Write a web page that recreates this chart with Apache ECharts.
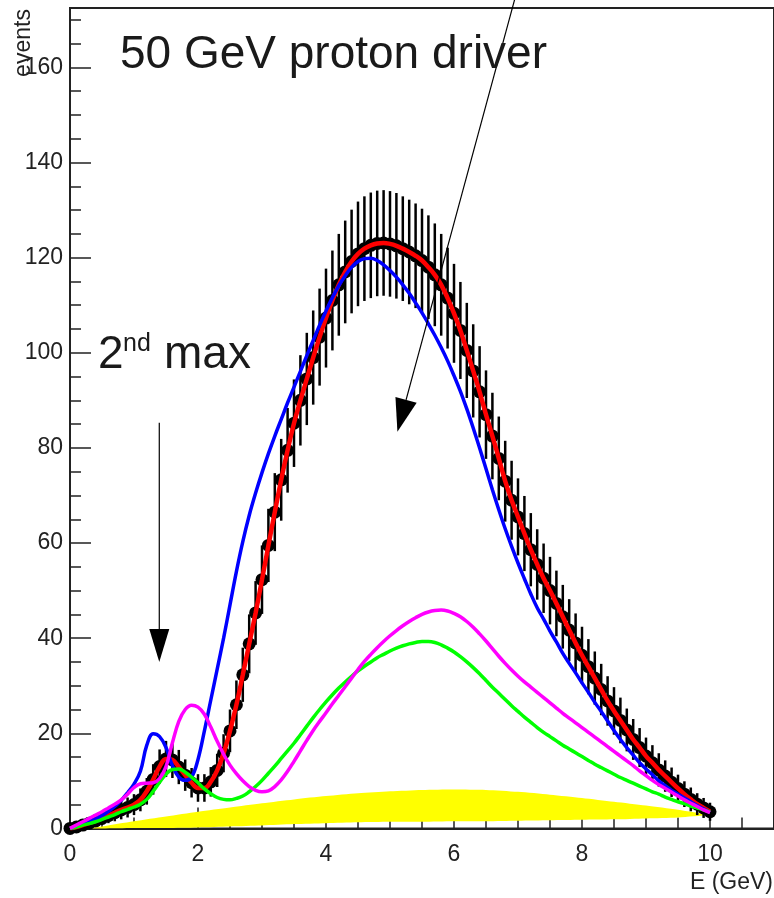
<!DOCTYPE html>
<html>
<head>
<meta charset="utf-8">
<script src="https://cdn.jsdelivr.net/npm/echarts@6/dist/echarts.min.js"></script>
<style>
html,body{margin:0;padding:0;background:#fff;}
#chart{width:774px;height:898px;}
</style>
</head>
<body>
<div id="chart"></div>
<script>
// ---- data ----
const energies = [0,0.1,0.2,0.3,0.4,0.5,0.6,0.7,0.8,0.9,1,1.1,1.2,1.3,1.4,1.5,1.6,1.7,1.8,1.9,2,2.1,2.2,2.3,2.4,2.5,2.6,2.7,2.8,2.9,3,3.1,3.2,3.3,3.4,3.5,3.6,3.7,3.8,3.9,4,4.1,4.2,4.3,4.4,4.5,4.6,4.7,4.8,4.9,5,5.1,5.2,5.3,5.4,5.5,5.6,5.7,5.8,5.9,6,6.1,6.2,6.3,6.4,6.5,6.6,6.7,6.8,6.9,7,7.1,7.2,7.3,7.4,7.5,7.6,7.7,7.8,7.9,8,8.1,8.2,8.3,8.4,8.5,8.6,8.7,8.8,8.9,9,9.1,9.2,9.3,9.4,9.5,9.6,9.7,9.8,9.9,10];

const dataEvents = [0,0.3,0.7,1.1,1.6,2.1,2.7,3.3,3.9,4.4,5.0,6.0,7.8,10.3,13.0,14.6,14.4,12.9,11.2,9.6,8.5,8.5,9.8,12.2,15.8,20.5,26.0,32.3,38.8,45.3,52.3,59.5,66.5,73.3,79.5,85.2,90.0,94.5,99.0,103.3,107.3,111.0,114.3,117.0,119.2,120.8,121.9,122.6,123.0,123.1,122.9,122.5,121.9,121.2,120.4,119.4,118.0,116.4,114.3,111.5,108.3,104.7,100.5,96.2,91.8,87.0,82.5,77.8,73.0,69.0,65.5,62.0,58.6,55.5,52.6,50.0,47.3,44.5,41.7,39.0,36.4,34.0,31.6,29.2,26.8,24.7,22.7,20.7,18.7,17.0,15.2,13.8,12.3,11.0,9.7,8.4,7.2,6.1,5.1,4.3,3.5];

const dataErrors = [0,0.5,0.8,1.0,1.3,1.4,1.6,1.8,2.0,2.1,2.2,2.4,2.8,3.2,3.6,3.8,3.8,3.6,3.3,3.1,2.9,2.9,3.1,3.5,4.0,4.5,5.1,5.7,6.2,6.7,7.2,7.7,8.2,8.6,8.9,9.2,9.5,9.7,9.9,10.2,10.4,10.5,10.7,10.8,10.9,11.0,11.0,11.1,11.1,11.1,11.1,11.1,11.0,11.0,11.0,10.9,10.9,10.8,10.7,10.6,10.4,10.2,10.0,9.8,9.6,9.3,9.1,8.8,8.5,8.3,8.1,7.9,7.7,7.4,7.3,7.1,6.9,6.7,6.5,6.2,6.0,5.8,5.6,5.4,5.2,5.0,4.8,4.5,4.3,4.1,3.9,3.7,3.5,3.3,3.1,2.9,2.7,2.5,2.3,2.1,1.9];

const fitRed = [0,0.3,0.7,1.1,1.6,2.1,2.7,3.3,3.9,4.4,5.0,6.0,7.8,10.3,13.0,14.6,14.4,12.9,11.2,9.6,8.5,8.5,9.8,12.2,15.8,20.5,26.0,32.3,38.8,45.3,52.3,59.5,66.5,73.3,79.5,85.2,90.0,94.5,99.0,103.3,107.3,111.0,114.3,117.0,119.2,120.8,121.9,122.6,123.0,123.1,122.9,122.5,121.9,121.2,120.4,119.4,118.0,116.4,114.3,111.5,108.3,104.7,100.5,96.2,91.8,87.0,82.5,77.8,73.0,69.0,65.5,62.0,58.6,55.5,52.6,50.0,47.3,44.5,41.7,39.0,36.4,34.0,31.6,29.2,26.8,24.7,22.7,20.7,18.7,17.0,15.2,13.8,12.3,11.0,9.7,8.4,7.2,6.1,5.1,4.3,3.5];

const blueCurve = [0,0.4,0.9,1.4,2.0,2.7,3.6,4.6,5.9,7.5,9.3,12.0,17.5,19.9,19.3,17.0,13.2,10.8,10.1,10.8,14.5,20.5,27.0,33.5,40.0,47.0,54.0,60.3,65.8,70.5,74.8,78.8,82.5,86.0,89.5,92.8,96.1,99.4,102.6,105.8,108.8,111.6,114.1,116.2,118.0,119.2,119.8,119.9,119.4,118.5,117.3,115.9,114.3,112.5,110.5,108.4,106.1,103.7,101.1,98.3,95.2,91.9,88.2,84.2,80.0,75.6,71.2,67.0,63.0,59.3,55.8,52.5,49.3,46.4,44.0,41.5,39.2,36.8,34.7,32.7,30.6,28.6,26.5,24.6,22.6,20.6,18.7,17.0,15.4,13.8,12.5,11.3,10.0,9.0,8.0,7.2,6.4,5.6,4.8,4.1,3.4];

const greenCurve = [0,0.3,0.7,1.0,1.4,1.9,2.4,2.9,3.5,4.0,4.5,5.1,6.1,7.8,9.7,11.4,12.4,12.5,11.8,10.8,9.6,8.3,7.3,6.5,6.1,6.0,6.3,6.8,7.7,8.8,10.1,11.6,13.1,14.7,16.3,17.9,19.7,21.5,23.3,25.0,26.6,28.1,29.5,30.8,32.0,33.1,34.1,35.0,35.9,36.6,37.3,37.9,38.4,38.8,39.1,39.3,39.3,39.1,38.6,37.9,37.1,36.1,35.0,33.8,32.5,31.1,29.7,28.4,27.1,25.8,24.6,23.4,22.3,21.2,20.2,19.3,18.4,17.5,16.7,15.9,15.1,14.3,13.5,12.8,12.1,11.4,10.7,10.1,9.5,8.9,8.3,7.7,7.2,6.6,6.1,5.6,5.2,4.7,4.3,3.9,3.4];

const magentaCurve = [0,0.7,1.4,2.1,2.8,3.5,4.3,5.1,6.0,7.2,8.6,9.4,9.5,9.6,10.5,13.0,18.0,22.5,25.0,25.9,25.5,24.0,21.3,18.3,15.6,13.3,11.5,10.0,8.8,8.0,7.7,7.9,8.8,10.2,12.0,14.1,16.3,18.5,20.6,22.5,24.3,26.2,28.0,29.8,31.6,33.4,35.1,36.6,38.0,39.3,40.5,41.6,42.6,43.5,44.3,45.0,45.5,45.8,45.9,45.7,45.2,44.5,43.5,42.3,40.9,39.4,37.8,36.2,34.7,33.3,32.0,30.8,29.7,28.6,27.5,26.4,25.3,24.2,23.2,22.2,21.2,20.2,19.2,18.2,17.2,16.2,15.2,14.2,13.2,12.1,11.1,10.1,9.2,8.4,7.6,6.8,6.0,5.3,4.6,3.9,3.3];

const yellowE = [0.3,0.5,1,1.5,2,2.5,3,3.5,4,4.5,5,5.5,6,6.5,7,7.5,8,8.5,9,9.5,10];
const yellowTop = [0,0.4,1.5,2.5,3.5,4.4,5.3,6.1,6.8,7.4,7.8,8.1,8.2,8.1,7.7,7.1,6.4,5.6,4.8,3.9,2.8];
const yellowBottom = [0,0,0.1,0.1,0.2,0.4,0.6,0.9,1.1,1.3,1.4,1.4,1.5,1.5,1.6,1.7,1.8,1.9,2.1,2.3,2.8];

const xMajorTicks = [0,2,4,6,8,10];
const yMajorTicks = [0,20,40,60,80,100,120,140,160];

// annotation arrows in data coordinates [E, events]
const arrowMain = {from:[6.946,174.2], to:[5.116,83.4]};
const arrow2nd  = {from:[1.395,85.3], to:[1.395,35.0]};

// ---- chart ----
const FONT = '"Liberation Sans", Arial, Helvetica, sans-serif';
const chart = echarts.init(document.getElementById('chart'), null, {renderer:'canvas'});

const pairs = (xs, ys) => xs.map((x,i)=>[x, ys[i]]);
const axisLineStyle = {color:'#222', width:2};

const option = {
  animation:false,
  backgroundColor:'#fff',
  grid:{left:70, top:8, right:-5.5, bottom:69.6, show:true, borderColor:'#222', borderWidth:2, backgroundColor:'transparent'},
  xAxis:[
    {type:'value', min:0, max:11, interval:2, position:'bottom',
     axisLine:{show:true, onZero:false, lineStyle:axisLineStyle},
     axisTick:{show:true, inside:true, length:21, lineStyle:{color:'#222', width:1.5}},
     axisLabel:{show:true, margin:15, fontSize:23, color:'#222', fontFamily:FONT, showMaxLabel:false,
       formatter:v=> xMajorTicks.indexOf(v) >= 0 ? String(v) : ''},
     splitLine:{show:false}},
    {type:'value', min:0, max:11, interval:0.5, position:'bottom', offset:0,
     axisLine:{show:false, onZero:false},
     axisTick:{show:true, inside:true, length:11, lineStyle:{color:'#222', width:1.5}},
     axisLabel:{show:false}, splitLine:{show:false}}
  ],
  yAxis:[
    {type:'value', min:0, max:172.5, interval:20, position:'left',
     axisLine:{show:true, onZero:false, lineStyle:axisLineStyle},
     axisTick:{show:true, inside:true, length:21, lineStyle:{color:'#222', width:1.5}},
     axisLabel:{show:true, margin:7, fontSize:23, color:'#222', fontFamily:FONT, showMaxLabel:false,
       formatter:v=> yMajorTicks.indexOf(v) >= 0 ? String(v) : ''},
     splitLine:{show:false}},
    {type:'value', min:0, max:172.5, interval:5, position:'left', offset:0,
     axisLine:{show:false, onZero:false},
     axisTick:{show:true, inside:true, length:11, lineStyle:{color:'#222', width:1.5}},
     axisLabel:{show:false}, splitLine:{show:false}}
  ],
  series:[
    {name:'yellow band', type:'custom', z:1, silent:true,
     data: pairs(yellowE, yellowTop),
     renderItem:(params, api)=>{
       if (params.dataIndex !== 0) return null;
       const top = yellowE.map((e,i)=>api.coord([e, yellowTop[i]]));
       const bot = yellowE.map((e,i)=>api.coord([e, yellowBottom[i]])).reverse();
       return {type:'polygon', shape:{points: top.concat(bot), smooth:0.25},
               style:{fill:'#ffff00', stroke:null}};
     }},
    {name:'error bars', type:'custom', z:2,
     data: energies.map((e,i)=>[e, dataEvents[i], dataErrors[i]]),
     renderItem:(params, api)=>{
       const x = api.value(0), v = api.value(1), er = api.value(2);
       const p1 = api.coord([x, v + er]);
       const p2 = api.coord([x, v - er]);
       return {type:'line', shape:{x1:p1[0], y1:p1[1], x2:p2[0], y2:p2[1]},
               style:{stroke:'#000', lineWidth:2.5}};
     }},
    {name:'data', type:'scatter', z:3, symbol:'circle', symbolSize:13,
     itemStyle:{color:'#000', opacity:1}, data:pairs(energies, dataEvents)},
    {name:'fit', type:'line', z:4, smooth:0.4, showSymbol:false,
     lineStyle:{color:'#ff0000', width:4.5}, data:pairs(energies, fitRed)},
    {name:'blue', type:'line', z:5, smooth:0.4, showSymbol:false,
     lineStyle:{color:'#0000ff', width:3.5}, data:pairs(energies, blueCurve)},
    {name:'green', type:'line', z:6, smooth:0.4, showSymbol:false,
     lineStyle:{color:'#00ff00', width:3.5}, data:pairs(energies, greenCurve)},
    {name:'magenta', type:'line', z:7, smooth:0.4, showSymbol:false,
     lineStyle:{color:'#ff00ff', width:3.5}, data:pairs(energies, magentaCurve)}
  ]
};
chart.setOption(option);

function arrowGraphics(arrow, headLen, headHalf){
  const F = chart.convertToPixel({xAxisIndex:0, yAxisIndex:0}, arrow.from);
  const T = chart.convertToPixel({xAxisIndex:0, yAxisIndex:0}, arrow.to);
  const dx = T[0]-F[0], dy = T[1]-F[1];
  const len = Math.sqrt(dx*dx+dy*dy);
  const ux = dx/len, uy = dy/len;
  const bx = T[0]-ux*headLen, by = T[1]-uy*headLen;
  const nx = -uy, ny = ux;
  return [
    {type:'line', z:100, shape:{x1:F[0], y1:F[1], x2:bx, y2:by}, style:{stroke:'#000', lineWidth:1.2}},
    {type:'polygon', z:100, shape:{points:[[T[0],T[1]],[bx+nx*headHalf, by+ny*headHalf],[bx-nx*headHalf, by-ny*headHalf]]},
     style:{fill:'#000'}}
  ];
}

const textStyle = (txt, size, align) => ({text:txt, fill:'#1a1a1a', font:size+'px '+FONT, align:align||'left', verticalAlign:'middle'});

chart.setOption({
  graphic:[
    ...arrowGraphics(arrowMain, 33, 11),
    ...arrowGraphics(arrow2nd, 33, 10),
    {type:'text', z:100, x:120, y:55, style:textStyle('50 GeV proton driver', 46)},
    {type:'text', z:100, x:98, y:355, style:textStyle('2', 46)},
    {type:'text', z:100, x:123, y:344, style:textStyle('nd', 25)},
    {type:'text', z:100, x:164, y:355, style:textStyle('max', 46)},
    {type:'text', z:100, x:773, y:883, style:{text:'E (GeV)', fill:'#222', font:'23px '+FONT, align:'right', verticalAlign:'middle'}},
    {type:'text', z:100, x:24, y:43, rotation:Math.PI/2, style:{text:'events', fill:'#222', font:'23px '+FONT, align:'center', verticalAlign:'middle'}}
  ]
});
</script>
</body>
</html>
